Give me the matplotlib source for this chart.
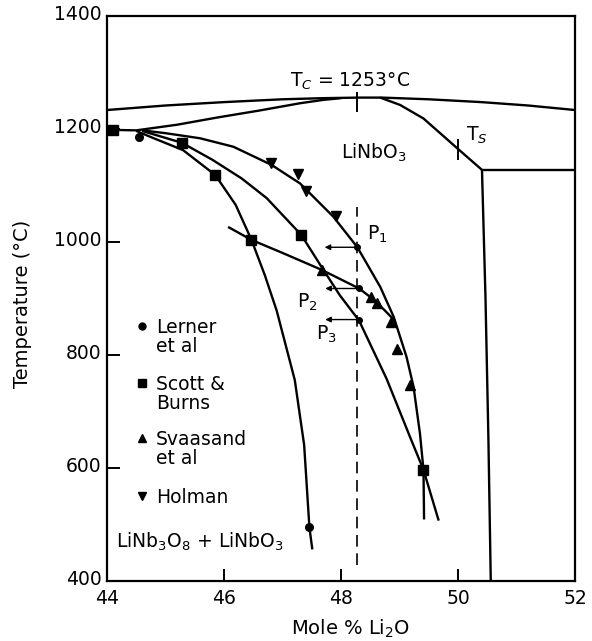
import matplotlib
matplotlib.use("Agg")
import matplotlib.pyplot as plt
from matplotlib.transforms import ScaledTranslation

# ---------------- data ----------------
# Curie-temperature arch (upper boundary)
arch_x = [44.0, 45.0, 46.0, 47.0, 47.7, 48.3, 48.7, 49.5, 50.4, 51.2, 52.0]
arch_T = [1233, 1241, 1247, 1252, 1254, 1255, 1255, 1252, 1247, 1241, 1233]

# lower (Nb-rich) line rising to the arch
low_x = [44.0, 44.5, 45.2, 45.9, 46.6, 47.3, 47.7, 48.0]
low_T = [1198, 1197, 1207, 1220, 1232, 1245, 1251, 1254]

# Li-rich side boundary down to the corner
rside_x = [48.67, 49.01, 49.41, 49.99, 50.41]
rside_T = [1255, 1242, 1218, 1165, 1127]
horiz_x = [50.41, 52.0]
horiz_T = [1127, 1127]
vert_x = [50.41, 50.47, 50.52, 50.56]
vert_T = [1127, 900, 650, 400]

# solvus curves
curve_a_x = [44.5, 44.8, 45.3, 45.85, 46.2, 46.47, 46.7, 46.9, 47.21, 47.37, 47.46, 47.51]
curve_a_T = [1196, 1183, 1162, 1118, 1065, 1003, 940, 878, 755, 640, 494, 455]

curve_b_x = [44.6, 45.28, 45.8, 46.3, 46.73, 47.32, 47.65, 47.98, 48.31, 48.78, 49.2, 49.41, 49.67]
curve_b_T = [1196, 1175, 1145, 1112, 1077, 1012, 958, 905, 860, 757, 649, 596, 506]

curve_c_x = [44.6, 45.0, 45.59, 46.16, 46.81, 47.3, 47.87, 48.28, 48.67, 48.9, 49.12, 49.24, 49.35, 49.41, 49.42]
curve_c_T = [1197, 1192, 1183, 1168, 1136, 1103, 1044, 990, 920, 867, 796, 743, 660, 596, 508]

curve_d_x = [46.07, 46.47, 47.0, 47.67, 48.31, 48.55, 48.75, 48.92]
curve_d_T = [1026, 1003, 980, 950, 917, 898, 878, 860]

# data points by source
lerner_x = [44.55, 47.46]
lerner_T = [1186, 494]
scott_x = [44.1, 45.28, 45.85, 46.47, 47.32, 49.41]
scott_T = [1198, 1175, 1118, 1003, 1012, 596]
svaasand_x = [47.67, 48.52, 48.61, 48.85, 48.95, 49.18]
svaasand_T = [950, 902, 891, 858, 809, 746]
holman_x = [46.81, 47.26, 47.41, 47.91]
holman_T = [1140, 1119, 1090, 1045]

# points P1, P2, P3 on the 48.3 mol% line, arrows point to lower Li2O
p_x = [48.28, 48.31, 48.31]
p_T = [990, 917, 862]
p_arrow_to = [47.72, 47.73, 47.73]
p_labels = ['P$_1$', 'P$_2$', 'P$_3$']

dash_x = 48.28
dash_T = [427, 1061]

tc_x = 48.27
ts_x = 50.0

legend_labels = [('o', 'Lerner\net al'), ('s', 'Scott &\nBurns'),
                 ('^', 'Svaasand\net al'), ('v', 'Holman')]

x_ticks = [44, 46, 48, 50, 52]
y_ticks = [400, 600, 800, 1000, 1200, 1400]

# ---------------- figure ----------------
plt.rcParams['font.family'] = ['DejaVu Sans']
plt.rcParams['mathtext.fontset'] = 'dejavusans'

fig = plt.figure(figsize=(5.92, 6.41), dpi=100)
ax = fig.add_axes([107/592, 1-580.5/641, (575-107)/592, (580.5-15.7)/641])
ax.set_xlim(44, 52)
ax.set_ylim(400, 1400)

lw = 1.7
k = 'black'
for xs, ts in [(arch_x, arch_T), (low_x, low_T), (rside_x, rside_T),
               (horiz_x, horiz_T), (vert_x, vert_T),
               (curve_a_x, curve_a_T), (curve_b_x, curve_b_T),
               (curve_c_x, curve_c_T), (curve_d_x, curve_d_T)]:
    ax.plot(xs, ts, color=k, lw=lw, solid_capstyle='butt', solid_joinstyle='round')

ax.plot([dash_x, dash_x], dash_T, color=k, lw=1.2, dashes=(7, 4))

# tick marks on the curves
ax.plot([tc_x, tc_x], [1231, 1264], color=k, lw=1.4)
ax.plot([ts_x, ts_x], [1147, 1180], color=k, lw=1.4)

ax.plot(lerner_x, lerner_T, 'o', color=k, ms=5.5)
ax.plot(scott_x, scott_T, 's', color=k, ms=6.5)
ax.plot(svaasand_x, svaasand_T, '^', color=k, ms=7.5)
ax.plot(holman_x, holman_T, 'v', color=k, ms=7.5)
ax.plot(p_x, p_T, 'o', color=k, ms=4)

for px, pt, pa in zip(p_x, p_T, p_arrow_to):
    ax.annotate('', xy=(pa, pt), xytext=(px, pt),
                arrowprops=dict(arrowstyle='-|>', lw=1.0, color=k,
                                mutation_scale=8, shrinkA=0, shrinkB=0))

fs = 13.5
ax.text(48.45, 1013, p_labels[0], fontsize=fs, va='center', ha='left')
ax.text(47.25, 892, p_labels[1], fontsize=fs, va='center', ha='left')
ax.text(47.58, 836, p_labels[2], fontsize=fs, va='center', ha='left')

ax.text(48.16, 1283, 'T$_C$ = 1253°C', fontsize=fs, ha='center', va='center')
ax.text(48.0, 1157, 'LiNbO$_3$', fontsize=fs, ha='left', va='center')
ax.text(50.13, 1188, 'T$_S$', fontsize=fs, ha='left', va='center')
ax.text(44.15, 468, 'LiNb$_3$O$_8$ + LiNbO$_3$', fontsize=fs, ha='left', va='center')

# hand-made legend
leg_y = [850, 749, 652, 550]
for (m, lab), yy in zip(legend_labels, leg_y):
    ax.plot([44.6], [yy], m, color=k, ms=5 if m == 'o' else 6)
    ax.text(44.84, yy + 14, lab, fontsize=fs, ha='left', va='top',
            linespacing=1.0)

# axes styling
for s in ax.spines.values():
    s.set_linewidth(1.6)
ax.set_xticks(x_ticks)
ax.set_yticks(y_ticks)
ax.set_xticklabels([str(v) for v in x_ticks])
ax.set_yticklabels([str(v) for v in y_ticks])
ax.tick_params(direction='in', length=9, width=1.4, labelsize=13.5, pad=4)
ax.tick_params(axis='x', pad=6)
# lift the y tick labels slightly, as in the reference
off = ScaledTranslation(0, 2/72, fig.dpi_scale_trans)
for lab in ax.get_yticklabels():
    lab.set_transform(lab.get_transform() + off)
ax.set_xlabel('Mole % Li$_2$O', fontsize=14)
ax.set_ylabel('Temperature (°C)', fontsize=14)
ax.xaxis.set_label_coords(0.52, -0.065)
ax.yaxis.set_label_coords(-0.16, 0.49)

fig.savefig('out.png', dpi=100)
